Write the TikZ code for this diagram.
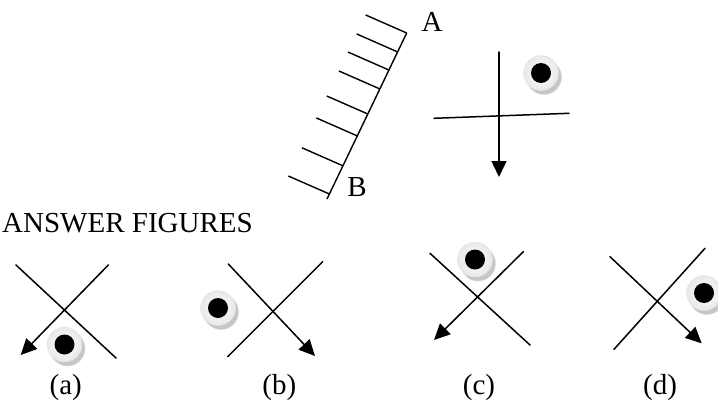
\documentclass[tikz,border=0pt]{standalone}
\usepackage{fontspec}
\setmainfont{Liberation Serif}
\usetikzlibrary{arrows.meta,calc}
\tikzset{
  fig/.style={line width=1.5pt,line cap=round},
  mv/.style={fig,-{Triangle[length=16pt,width=15pt]}},
  hatch/.style={line width=1.4pt},
  lbl/.style={font=\fontsize{29}{33}\selectfont,inner sep=0pt},
  coinedge/.style={circle,minimum size=35pt,inner sep=0pt,fill=gray!45,draw=gray!30},
  coinface/.style={circle,minimum size=35pt,inner sep=0pt,
    inner color=white,outer color=gray!18,draw=gray!20},
  coindot/.style={circle,minimum size=20pt,inner sep=0pt,fill=black},
}
% coin: #1 name, #2 centre
\newcommand{\coinat}[2]{%
  \node[coinedge] at ($(#2)+(3,4)$) {};
  \node[coinface] (#1) at (#2) {};
  \node[coindot] at (#1) {};
}
\begin{document}
\begin{tikzpicture}[x=1pt,y=-1pt]
  \useasboundingbox (0,0) rectangle (718,410);
  \clip (0,0) rectangle (718,410);
  % mirror A--B with hatching
  \coordinate (mA) at (406.7,33);
  \coordinate (mB) at (327,199);
  \draw[hatch] (mA) -- (mB);
  \foreach \t in {0,0.114,0.223,0.337,0.488,0.62,0.80,0.97}
    \draw[hatch] ($(mA)!\t!(mB)$) -- ++(-41,-18);
  \node[lbl] (labA) at (432,22) {A};
  \node[lbl] (labB) at (357,187) {B};
  % problem figure
  \coordinate (pTop) at (499,52);
  \coordinate (pTip) at (499,177);
  \coordinate (pL) at (434,118.3);
  \coordinate (pR) at (569,113.3);
  \draw[fig] (pL) -- (pR);
  \draw[mv] (pTop) -- (pTip);
  \coinat{coinP}{541,73}
  \node[lbl,anchor=west] (ans) at (2,223) {ANSWER FIGURES};
  % (a)
  \draw[fig] (16,265) -- (116,358);
  \draw[mv] (108.3,265) -- (20.7,355);
  \coinat{coinA}{64.5,344.5}
  \node[lbl] (la) at (65.7,388) {(a)};
  % (b)
  \draw[fig] (322.7,261.7) -- (227.7,356.7);
  \draw[mv] (228.3,264) -- (315,356);
  \coinat{coinB}{218,308}
  \node[lbl] (lb) at (279.3,388) {(b)};
  % (c)
  \draw[fig] (430,253.3) -- (530,345);
  \draw[mv] (523.3,251.7) -- (434,340);
  \coinat{coinC}{475,259.5}
  \node[lbl] (lc) at (479,388) {(c)};
  % (d)
  \draw[fig] (705,248.3) -- (614,349.3);
  \draw[mv] (610,256.7) -- (701.7,343.3);
  \coinat{coinD}{704,293}
  \node[lbl] (ld) at (660,388) {(d)};
\end{tikzpicture}
\end{document}
